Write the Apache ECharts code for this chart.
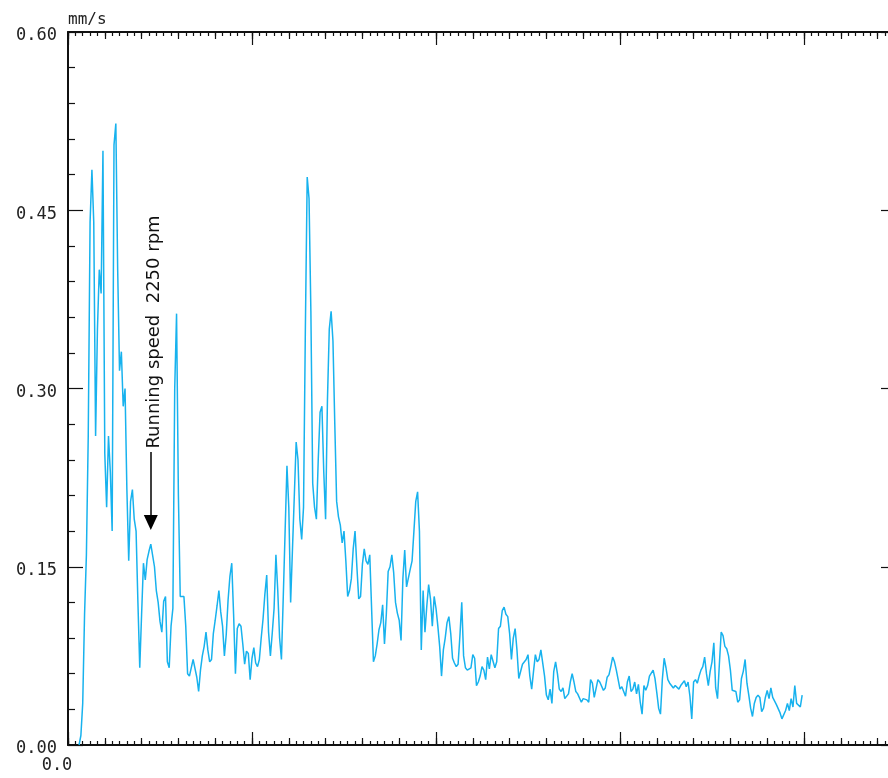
<!DOCTYPE html>
<html>
<head>
<meta charset="utf-8">
<script src="https://cdn.jsdelivr.net/npm/echarts@6/dist/echarts.min.js"></script>
<style>
  html, body { margin: 0; padding: 0; background: #ffffff; }
  #chart { width: 888px; height: 778px; }
</style>
</head>
<body>
<div id="chart"></div>
<script>
// Vibration velocity spectrum, frequency lines every 50 CPM starting at 300 CPM
const freqStartCpm = 300;
const freqStepCpm = 50;

// Velocity amplitude (mm/s) of each spectral line
const amplitude = [
  0, 0.008, 0.035, 0.11, 0.16, 0.26, 0.44, 0.484, 0.44, 0.26,
  0.35, 0.40, 0.38, 0.50, 0.245, 0.20, 0.26, 0.23, 0.18, 0.505,
  0.523, 0.40, 0.315, 0.331, 0.285, 0.30, 0.215, 0.155, 0.205, 0.215,
  0.19, 0.18, 0.12, 0.065, 0.11, 0.153, 0.139, 0.156, 0.163, 0.169,
  0.168, 0.15, 0.13, 0.12, 0.104, 0.095, 0.121, 0.125, 0.07, 0.065,
  0.10, 0.115, 0.30, 0.363, 0.21, 0.125, 0.125, 0.125, 0.10, 0.06,
  0.058, 0.058, 0.072, 0.072, 0.057, 0.045, 0.063, 0.075, 0.083, 0.095,
  0.08, 0.07, 0.072, 0.094, 0.105, 0.117, 0.13, 0.112, 0.10, 0.075,
  0.093, 0.122, 0.142, 0.153, 0.11, 0.06, 0.098, 0.102, 0.10, 0.085,
  0.068, 0.079, 0.077, 0.055, 0.073, 0.082, 0.069, 0.066, 0.072, 0.09,
  0.106, 0.127, 0.143, 0.095, 0.075, 0.094, 0.115, 0.16, 0.13, 0.09,
  0.072, 0.125, 0.18, 0.235, 0.20, 0.12, 0.165, 0.21, 0.255, 0.24,
  0.19, 0.173, 0.20, 0.35, 0.478, 0.46, 0.365, 0.22, 0.20, 0.19,
  0.24, 0.28, 0.285, 0.23, 0.19, 0.29, 0.35, 0.365, 0.34, 0.27,
  0.205, 0.192, 0.185, 0.17, 0.18, 0.155, 0.125, 0.13, 0.14, 0.165,
  0.18, 0.15, 0.123, 0.125, 0.152, 0.165, 0.155, 0.152, 0.16, 0.16,
  0.07, 0.075, 0.085, 0.097, 0.103, 0.118, 0.085, 0.11, 0.146, 0.15,
  0.16, 0.145, 0.12, 0.111, 0.105, 0.088, 0.14, 0.164, 0.133, 0.133,
  0.148, 0.155, 0.18, 0.205, 0.213, 0.18, 0.08, 0.13, 0.095, 0.117,
  0.135, 0.123, 0.10, 0.125, 0.115, 0.10, 0.083, 0.058, 0.08, 0.09,
  0.103, 0.108, 0.094, 0.073, 0.069, 0.066, 0.068, 0.092, 0.12, 0.075,
  0.065, 0.063, 0.062, 0.065, 0.076, 0.073, 0.05, 0.053, 0.058, 0.066,
  0.063, 0.055, 0.074, 0.064, 0.076, 0.075, 0.065, 0.07, 0.098, 0.10,
  0.113, 0.116, 0.11, 0.108, 0.094, 0.072, 0.09, 0.098, 0.08, 0.056,
  0.055, 0.068, 0.068, 0.072, 0.076, 0.058, 0.047, 0.062, 0.076, 0.07,
  0.072, 0.08, 0.08, 0.058, 0.042, 0.038, 0.047, 0.035, 0.062, 0.07,
  0.06, 0.047, 0.045, 0.048, 0.039, 0.039, 0.043, 0.053, 0.06, 0.053,
  0.045, 0.043, 0.043, 0.036, 0.039, 0.038, 0.038, 0.036, 0.055, 0.052,
  0.04, 0.04, 0.055, 0.053, 0.053, 0.046, 0.048, 0.057, 0.059, 0.066,
  0.074, 0.07, 0.063, 0.062, 0.047, 0.049, 0.05, 0.041, 0.053, 0.058,
  0.045, 0.047, 0.053, 0.043, 0.051, 0.036, 0.026, 0.05, 0.046, 0.05,
  0.058, 0.058, 0.063, 0.056, 0.044, 0.031, 0.026, 0.055, 0.073, 0.065,
  0.055, 0.052, 0.052, 0.048, 0.05, 0.05, 0.047, 0.05, 0.051, 0.054,
  0.049, 0.053, 0.041, 0.022, 0.053, 0.055, 0.052, 0.058, 0.063, 0.066,
  0.074, 0.06, 0.05, 0.062, 0.07, 0.086, 0.048, 0.039, 0.068, 0.095,
  0.092, 0.083, 0.081, 0.075, 0.063, 0.046, 0.045, 0.045, 0.036, 0.038,
  0.056, 0.062, 0.072, 0.052, 0.042, 0.031, 0.024, 0.035, 0.04, 0.042,
  0.04, 0.028, 0.031, 0.04, 0.046, 0.039, 0.048, 0.04, 0.041, 0.034,
  0.035, 0.027, 0.022, 0.022, 0.029, 0.035, 0.029, 0.039, 0.032, 0.05,
  0.035, 0.035, 0.032, 0.042
];

// Axis tick labels
const yTickLabels = ['0.00', '0.15', '0.30', '0.45', '0.60'];
const xTickLabels = ['0.0'];

// Running-speed annotation
const runningSpeedCpm = 2250;
const annotationText = 'Running speed  2250 rpm';
const arrowFromValue = 0.2466;
const arrowToValue = 0.1873;

const seriesData = amplitude.map((v, i) => [freqStartCpm + i * freqStepCpm, v]);

const ink = '#111111';
const monoFont = '"DejaVu Sans Mono", "Liberation Mono", monospace';

function xAxisLayer(position, interval, tickLen, withLine, labelOn) {
  return {
    type: 'value',
    position: position,
    min: 0,
    max: 22500,
    interval: interval,
    splitLine: { show: false },
    axisLine: { show: withLine, onZero: false, lineStyle: { color: ink, width: 2 } },
    axisTick: { show: true, inside: true, length: tickLen, lineStyle: { color: ink, width: 1.2 } },
    minorTick: { show: false },
    axisLabel: labelOn ? {
      show: true,
      margin: 12,
      color: '#222',
      fontFamily: monoFont,
      fontSize: 17,
      padding: [0, 22, 0, 0],
      showMinLabel: true,
      showMaxLabel: false,
      formatter: function (v) { return v === 0 ? xTickLabels[0] : ''; }
    } : { show: false }
  };
}

function yAxisLayer(position, withLabels) {
  return {
    type: 'value',
    position: position,
    min: 0,
    max: 0.6,
    interval: 0.15,
    splitLine: { show: false },
    axisLine: { show: true, onZero: false, lineStyle: { color: ink, width: 2 } },
    axisTick: { show: true, inside: true, length: 15, lineStyle: { color: ink, width: 1.2 } },
    minorTick: { show: true, splitNumber: 5, length: 7, lineStyle: { color: ink, width: 1.2 } },
    name: withLabels ? 'mm/s' : '',
    nameLocation: 'end',
    nameGap: 4,
    nameTextStyle: {
      align: 'left',
      verticalAlign: 'bottom',
      color: '#222',
      fontFamily: monoFont,
      fontSize: 16
    },
    axisLabel: withLabels ? {
      show: true,
      margin: 11,
      color: '#222',
      fontFamily: monoFont,
      fontSize: 17,
      formatter: function (v, idx) { return '{v|' + yTickLabels[idx] + '}'; },
      rich: {
        v: {
          fontFamily: monoFont,
          fontSize: 17,
          color: '#222',
          padding: [8, 0, 0, 0]
        }
      }
    } : { show: false }
  };
}

const chart = echarts.init(document.getElementById('chart'), null, { renderer: 'canvas' });

chart.setOption({
  animation: false,
  backgroundColor: '#ffffff',
  // the frame is wider than the page; its right edge sits just past the visible area
  grid: {
    left: 68, top: 32, width: 828, height: 713,
    containLabel: false,
    outerBoundsMode: 'none'
  },
  xAxis: [
    xAxisLayer('bottom', 5000, 13, true, true),
    xAxisLayer('bottom', 1000, 7, false, false),
    xAxisLayer('bottom', 200, 4, false, false),
    xAxisLayer('top', 5000, 13, true, false),
    xAxisLayer('top', 1000, 7, false, false),
    xAxisLayer('top', 200, 4, false, false)
  ],
  yAxis: [
    yAxisLayer('left', true),
    yAxisLayer('right', false)
  ],
  series: [{
    type: 'line',
    xAxisIndex: 0,
    yAxisIndex: 0,
    data: seriesData,
    showSymbol: false,
    symbol: 'none',
    sampling: null,
    lineStyle: { color: '#17b2ee', width: 1.5 },
    itemStyle: { color: '#17b2ee' },
    markLine: {
      silent: true,
      animation: false,
      symbol: ['none', 'triangle'],
      symbolSize: [14, 15],
      lineStyle: { color: '#000000', width: 1.5, type: 'solid' },
      label: { show: false },
      emphasis: { disabled: true },
      data: [[
        { coord: [runningSpeedCpm, arrowFromValue] },
        { coord: [runningSpeedCpm, arrowToValue] }
      ]]
    }
  }],
  graphic: [{
    type: 'text',
    x: 154,
    y: 332,
    rotation: Math.PI / 2,
    silent: true,
    style: {
      text: annotationText,
      fill: '#111111',
      font: '18px "DejaVu Sans", sans-serif',
      align: 'center',
      verticalAlign: 'middle'
    }
  }]
});
</script>
</body>
</html>
